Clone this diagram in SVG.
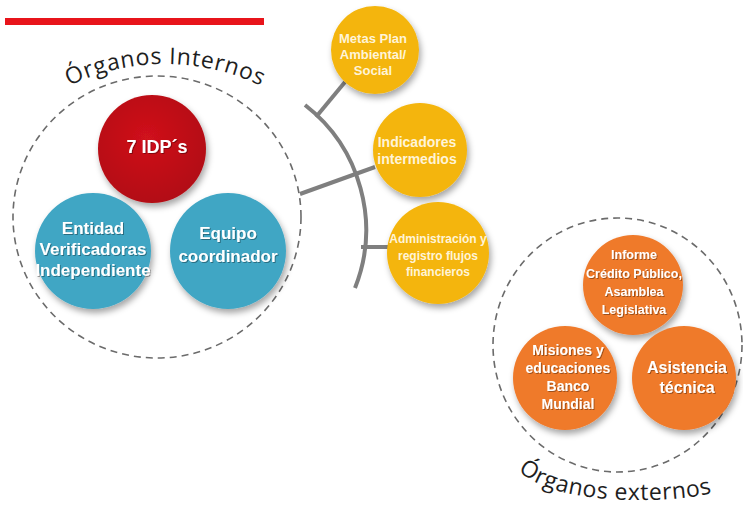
<svg xmlns="http://www.w3.org/2000/svg" width="743" height="506" viewBox="0 0 743 506">
  <defs>
    <filter id="sh" x="-30%" y="-30%" width="160%" height="160%">
      <feDropShadow dx="2" dy="4" stdDeviation="3" flood-color="#000" flood-opacity="0.35"/>
    </filter>
    <filter id="tsh" x="-10%" y="-30%" width="120%" height="160%">
      <feDropShadow dx="1" dy="1" stdDeviation="0.6" flood-color="#000" flood-opacity="0.35"/>
    </filter>
    <radialGradient id="gRed" cx="45%" cy="40%" r="65%">
      <stop offset="0" stop-color="#d0121b"/>
      <stop offset="1" stop-color="#b00a12"/>
    </radialGradient>
    <path id="arcIn" d="M 45,99.4 A 221,221 0 0 1 285,99.4"/>
    <path id="arcOut" d="M 518,471 C 548,496 600,500 640,500 S 708,497 738,484"/>
  </defs>
  <style>
    .dash { fill: none; stroke: #6b6b6b; stroke-width: 1.6; stroke-dasharray: 7 5; }
    .conn { fill: none; stroke: #7f7f7f; stroke-width: 4; stroke-linecap: butt; }
    .red { fill: url(#gRed); filter: url(#sh); }
    .blue { fill: #40a6c4; filter: url(#sh); }
    .yel { fill: #f4b50c; filter: url(#sh); }
    .org { fill: #ef7a2c; filter: url(#sh); }
    .t { font-family: "Liberation Sans", Arial, sans-serif; font-weight: bold; fill: #ffffff; text-anchor: middle; filter: url(#tsh); }
    .ty { font-family: "Liberation Sans", Arial, sans-serif; font-weight: bold; fill: #fff4d8; text-anchor: middle; }
    .arc { font-family: "Open Sans", "Liberation Sans", sans-serif; font-size: 23px; fill: #1e1e1e; }
  </style>

  <rect x="5" y="18" width="259" height="7" fill="#e8141b"/>

  <g id="connectors">
    <path class="conn" d="M 305,105 A 158,158 0 0 1 355,288"/>
    <line class="conn" x1="345" y1="82" x2="316" y2="117"/>
    <line class="conn" x1="375" y1="167" x2="300" y2="194"/>
    <line class="conn" x1="361" y1="247" x2="392" y2="247"/>
  </g>

  <g id="organos-internos">
    <ellipse class="dash" cx="157" cy="217" rx="144" ry="141"/>
    <text class="arc"><textPath href="#arcIn" startOffset="50%" text-anchor="middle" textLength="198" lengthAdjust="spacing">Órganos Internos</textPath></text>
  </g>

  <g id="idp">
    <circle class="red" cx="152" cy="149" r="54"/>
    <text class="t" x="157" y="153" font-size="18">7 IDP´s</text>
  </g>

  <g id="entidad">
    <circle class="blue" cx="93" cy="251" r="58"/>
    <text class="t" font-size="17"><tspan x="93" y="234">Entidad</tspan><tspan x="93" y="255">Verificadoras</tspan><tspan x="93" y="276">Independiente</tspan></text>
  </g>

  <g id="equipo">
    <circle class="blue" cx="228" cy="251" r="58"/>
    <text class="t" font-size="17"><tspan x="228" y="239">Equipo</tspan><tspan x="228" y="262">coordinador</tspan></text>
  </g>

  <g id="metas">
    <circle class="yel" cx="375" cy="50" r="44"/>
    <text class="ty" font-size="13"><tspan x="373" y="43">Metas Plan</tspan><tspan x="373" y="59">Ambiental/</tspan><tspan x="373" y="75">Social</tspan></text>
  </g>

  <g id="indicadores">
    <circle class="yel" cx="420" cy="150" r="47"/>
    <text class="ty" font-size="14"><tspan x="417" y="147">Indicadores</tspan><tspan x="417" y="164">intermedios</tspan></text>
  </g>

  <g id="administracion">
    <circle class="yel" cx="438" cy="253" r="51"/>
    <text class="ty" font-size="12" font-weight="normal"><tspan x="438" y="243">Administración y</tspan><tspan x="438" y="260">registro flujos</tspan><tspan x="438" y="276">financieros</tspan></text>
  </g>

  <g id="organos-externos">
    <ellipse class="dash" cx="617.5" cy="345" rx="124.5" ry="127"/>
    <text class="arc"><textPath href="#arcOut" startOffset="0" textLength="200" lengthAdjust="spacing">Órganos externos</textPath></text>
  </g>

  <g id="informe">
    <circle class="org" cx="633" cy="285" r="50"/>
    <text class="t" font-size="12.5"><tspan x="634" y="259">Informe</tspan><tspan x="634" y="278">Crédito Público,</tspan><tspan x="634" y="296">Asamblea</tspan><tspan x="634" y="314">Legislativa</tspan></text>
  </g>

  <g id="misiones">
    <circle class="org" cx="565" cy="378" r="52"/>
    <text class="t" font-size="14"><tspan x="568" y="355">Misiones y</tspan><tspan x="568" y="373">educaciones</tspan><tspan x="568" y="391">Banco</tspan><tspan x="568" y="409">Mundial</tspan></text>
  </g>

  <g id="asistencia">
    <circle class="org" cx="684" cy="378" r="52"/>
    <text class="t" font-size="16"><tspan x="687" y="373">Asistencia</tspan><tspan x="687" y="393">técnica</tspan></text>
  </g>
</svg>
